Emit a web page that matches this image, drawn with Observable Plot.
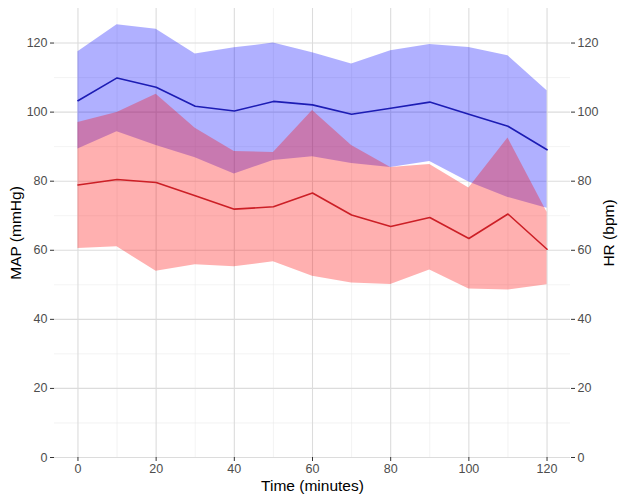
<!DOCTYPE html>
<html>
<head>
<meta charset="utf-8">
<script src="https://cdn.jsdelivr.net/npm/d3@7"></script>
<script src="https://cdn.jsdelivr.net/npm/@observablehq/plot@0.6"></script>
<style>
  html, body { margin: 0; padding: 0; background: #fff; }
  #chart svg { display: block; }
</style>
</head>
<body>
<div id="chart"></div>
<script>
// Time points (minutes)
const time = [0, 10, 20, 30, 40, 50, 60, 70, 80, 90, 100, 110, 120];

// Blue series (heart rate, bpm): mean and band limits
const hrMean  = [103.3, 109.9, 107.2, 101.7, 100.3, 103.1, 102.1, 99.4, 101.1, 102.9, 99.4, 95.9, 89.1];
const hrUpper = [117.5, 125.3, 124.0, 116.8, 118.6, 120.0, 117.2, 113.9, 117.8, 119.6, 118.7, 116.3, 106.2];
const hrLower = [89.3, 94.3, 90.3, 86.8, 82.1, 86.0, 87.1, 85.1, 84.0, 85.7, 79.8, 75.3, 72.2];

// Red series (mean arterial pressure, mmHg): mean and band limits
const mapMean  = [78.9, 80.5, 79.6, 75.8, 71.9, 72.6, 76.6, 70.2, 66.9, 69.5, 63.4, 70.5, 60.3];
const mapUpper = [97.0, 99.9, 105.2, 95.3, 88.6, 88.3, 100.5, 90.3, 84.0, 84.8, 78.0, 92.5, 71.0];
const mapLower = [60.5, 61.0, 53.9, 55.8, 55.2, 56.7, 52.5, 50.5, 50.1, 54.3, 48.8, 48.5, 50.0];

// Tick labels
const majorTicks = [0, 20, 40, 60, 80, 100, 120];
const minorTicks = [10, 30, 50, 70, 90, 110];

const hr = time.map((t, i) => ({t, mean: hrMean[i], lo: hrLower[i], hi: hrUpper[i]}));
const map = time.map((t, i) => ({t, mean: mapMean[i], lo: mapLower[i], hi: mapUpper[i]}));

const plot = Plot.plot({
  width: 620,
  height: 503,
  marginLeft: 54,
  marginRight: 50,
  marginTop: 8,
  marginBottom: 46,
  style: {fontFamily: "'Liberation Sans', Arial, Helvetica, sans-serif", background: "#fff"},
  x: {domain: [-6, 126]},
  y: {domain: [0, 130]},
  marks: [
    Plot.gridX(minorTicks, {stroke: "#ebebeb", strokeOpacity: 1, strokeWidth: 0.6}),
    Plot.gridY(minorTicks, {stroke: "#ebebeb", strokeOpacity: 1, strokeWidth: 0.6}),
    Plot.gridX(majorTicks, {stroke: "#dcdcdc", strokeOpacity: 1, strokeWidth: 1.1}),
    Plot.gridY(majorTicks, {stroke: "#dcdcdc", strokeOpacity: 1, strokeWidth: 1.1}),
    Plot.areaY(hr, {x: "t", y1: "lo", y2: "hi", fill: "#0000ff", fillOpacity: 0.31}),
    Plot.areaY(map, {x: "t", y1: "lo", y2: "hi", fill: "#ff0000", fillOpacity: 0.31}),
    Plot.lineY(hr, {x: "t", y: "mean", stroke: "#1c1cb4", strokeWidth: 1.6}),
    Plot.lineY(map, {x: "t", y: "mean", stroke: "#cc1f26", strokeWidth: 1.6}),
    Plot.axisY(majorTicks, {anchor: "left", tickSize: 4, tickPadding: 3, stroke: "#333", fill: "#4d4d4d", fontSize: 12.5, label: null}),
    Plot.axisY(majorTicks, {anchor: "right", tickSize: 4, tickPadding: 3, stroke: "#333", fill: "#4d4d4d", fontSize: 12.5, label: null}),
    Plot.axisX(majorTicks, {anchor: "bottom", tickSize: 4, tickPadding: 3, stroke: "#333", fill: "#4d4d4d", fontSize: 12.5, label: null}),
    Plot.axisY([], {anchor: "left", tickSize: 0, label: "MAP (mmHg)", labelAnchor: "center", labelArrow: "none", labelOffset: 45, fill: "#000", fontSize: 15.5}),
    Plot.axisY([], {anchor: "right", tickSize: 0, label: "HR (bpm)", labelAnchor: "center", labelArrow: "none", labelOffset: 43, fill: "#000", fontSize: 15.5}),
    Plot.axisX([], {anchor: "bottom", tickSize: 0, label: "Time (minutes)", labelAnchor: "center", labelArrow: "none", labelOffset: 33, fill: "#000", fontSize: 15.5})
  ]
});
document.getElementById("chart").appendChild(plot);
</script>
</body>
</html>
